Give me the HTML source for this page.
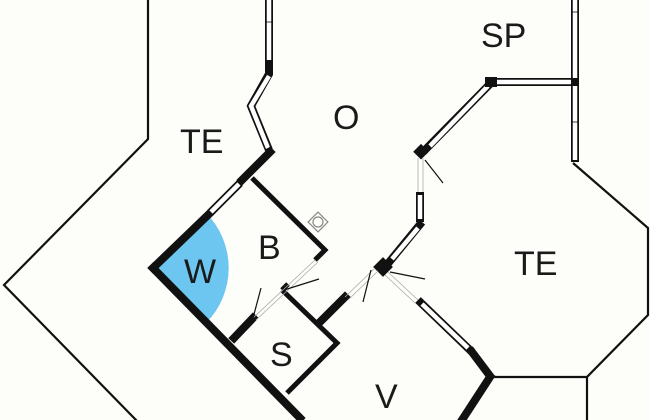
<!DOCTYPE html>
<html><head><style>html,body{margin:0;padding:0;background:#fdfdf9;}svg{display:block;}text{font-family:"Liberation Sans",sans-serif;font-size:34px;fill:#1a1a1a;}</style></head>
<body>
<svg width="650" height="420" viewBox="0 0 650 420" xmlns="http://www.w3.org/2000/svg">
<rect width="650" height="420" fill="#fdfdf9"/>
<path d="M152,268 L206,213 A78,78 0 0 1 206,323 Z" fill="#6cc6ef"/>
<g fill="none" stroke="#111" stroke-width="2.2">
<polyline points="148,0 148,139 4,285 137,421"/>
<polyline points="573,163 648,228 648,315 587,377 587,421"/>
<line x1="491" y1="377" x2="588" y2="377"/>
</g>
<g fill="none" stroke="#111" stroke-width="8" stroke-linejoin="miter">
<polyline points="269,0 269,74 251,106 269,150"/>
<line x1="240" y1="183" x2="210" y2="213"/>
<polyline points="423,152 492,82 575,82"/>
<line x1="575" y1="0" x2="575" y2="162"/>
<line x1="420" y1="192" x2="420" y2="222"/>
<line x1="386" y1="266" x2="422" y2="222"/>
<line x1="418" y1="300" x2="472" y2="352"/>
</g>
<g fill="none" stroke="#fff" stroke-width="4.5">
<polyline points="269,0 269,60"/>
<polyline points="269,76 251,106 268,148"/>
<line x1="239" y1="184" x2="211" y2="212"/>
<line x1="430" y1="146" x2="488" y2="86"/>
<line x1="496" y1="82" x2="571" y2="82"/>
<line x1="575" y1="0" x2="575" y2="78"/>
<line x1="575" y1="86" x2="575" y2="160"/>
<line x1="420" y1="195" x2="420" y2="219"/>
<line x1="392" y1="259" x2="418" y2="228"/>
<line x1="422" y1="304" x2="468" y2="348"/>
</g>
<g stroke="#111" stroke-width="0.8">
<line x1="266" y1="22" x2="273" y2="22"/>
<line x1="571" y1="12" x2="579" y2="12"/>
<line x1="571" y1="122" x2="579" y2="122"/>
</g>
<g fill="none" stroke="#111" stroke-width="8" stroke-linecap="square">
<line x1="270" y1="152" x2="242" y2="180"/>
<line x1="208" y1="215" x2="153" y2="268"/>
<polyline points="153,268 300,418"/>
<line x1="490" y1="377" x2="462" y2="420"/>
<line x1="472" y1="352" x2="490" y2="376"/>
<line x1="253" y1="318" x2="234" y2="338"/>
<line x1="345" y1="297" x2="320" y2="322"/>
</g>
<g fill="none" stroke="#111" stroke-width="5">
<polyline points="252,178 325,250 315,260"/>
<polyline points="282,290 337,343 287,393"/>
<line x1="282" y1="290" x2="288" y2="284"/>
</g>
<rect x="376" y="260" width="14" height="14" fill="#111" transform="rotate(45 383 267)"/>
<rect x="416" y="146" width="11" height="11" fill="#111" transform="rotate(45 421 151)"/>
<rect x="485" y="77" width="12" height="10" fill="#111"/>
<rect x="571" y="78" width="8" height="8" fill="#111"/>
<rect x="265" y="60" width="8" height="14" fill="#111"/>
<g stroke="#aaa" stroke-width="0.8">
<line x1="315" y1="260" x2="253" y2="318"/><line x1="318" y1="262" x2="256" y2="320"/>
<line x1="345" y1="297" x2="375" y2="268"/><line x1="348" y1="300" x2="378" y2="271"/>
<line x1="388" y1="272" x2="418" y2="300"/><line x1="385" y1="275" x2="415" y2="303"/>
<line x1="418" y1="158" x2="418" y2="192"/><line x1="423" y1="158" x2="423" y2="192"/>
</g>
<g stroke="#111" stroke-width="1.2">
<line x1="253" y1="318" x2="261" y2="288"/>
<line x1="284" y1="290" x2="319" y2="279"/>
<line x1="371" y1="270" x2="363" y2="302"/>
<line x1="390" y1="272" x2="425" y2="279"/>
<line x1="425" y1="160" x2="443" y2="183"/>
</g>
<g fill="none" stroke="#888" stroke-width="1.2">
<rect x="311" y="215" width="14" height="14" transform="rotate(45 318 222)"/>
<circle cx="318" cy="222" r="5"/>
</g>
<text x="180" y="153">TE</text>
<text x="333" y="129">O</text>
<text x="481" y="47">SP</text>
<text x="514" y="275">TE</text>
<text x="258" y="259">B</text>
<text x="184" y="283">W</text>
<text x="270" y="366">S</text>
<text x="375" y="408">V</text>
</svg>
</body></html>
